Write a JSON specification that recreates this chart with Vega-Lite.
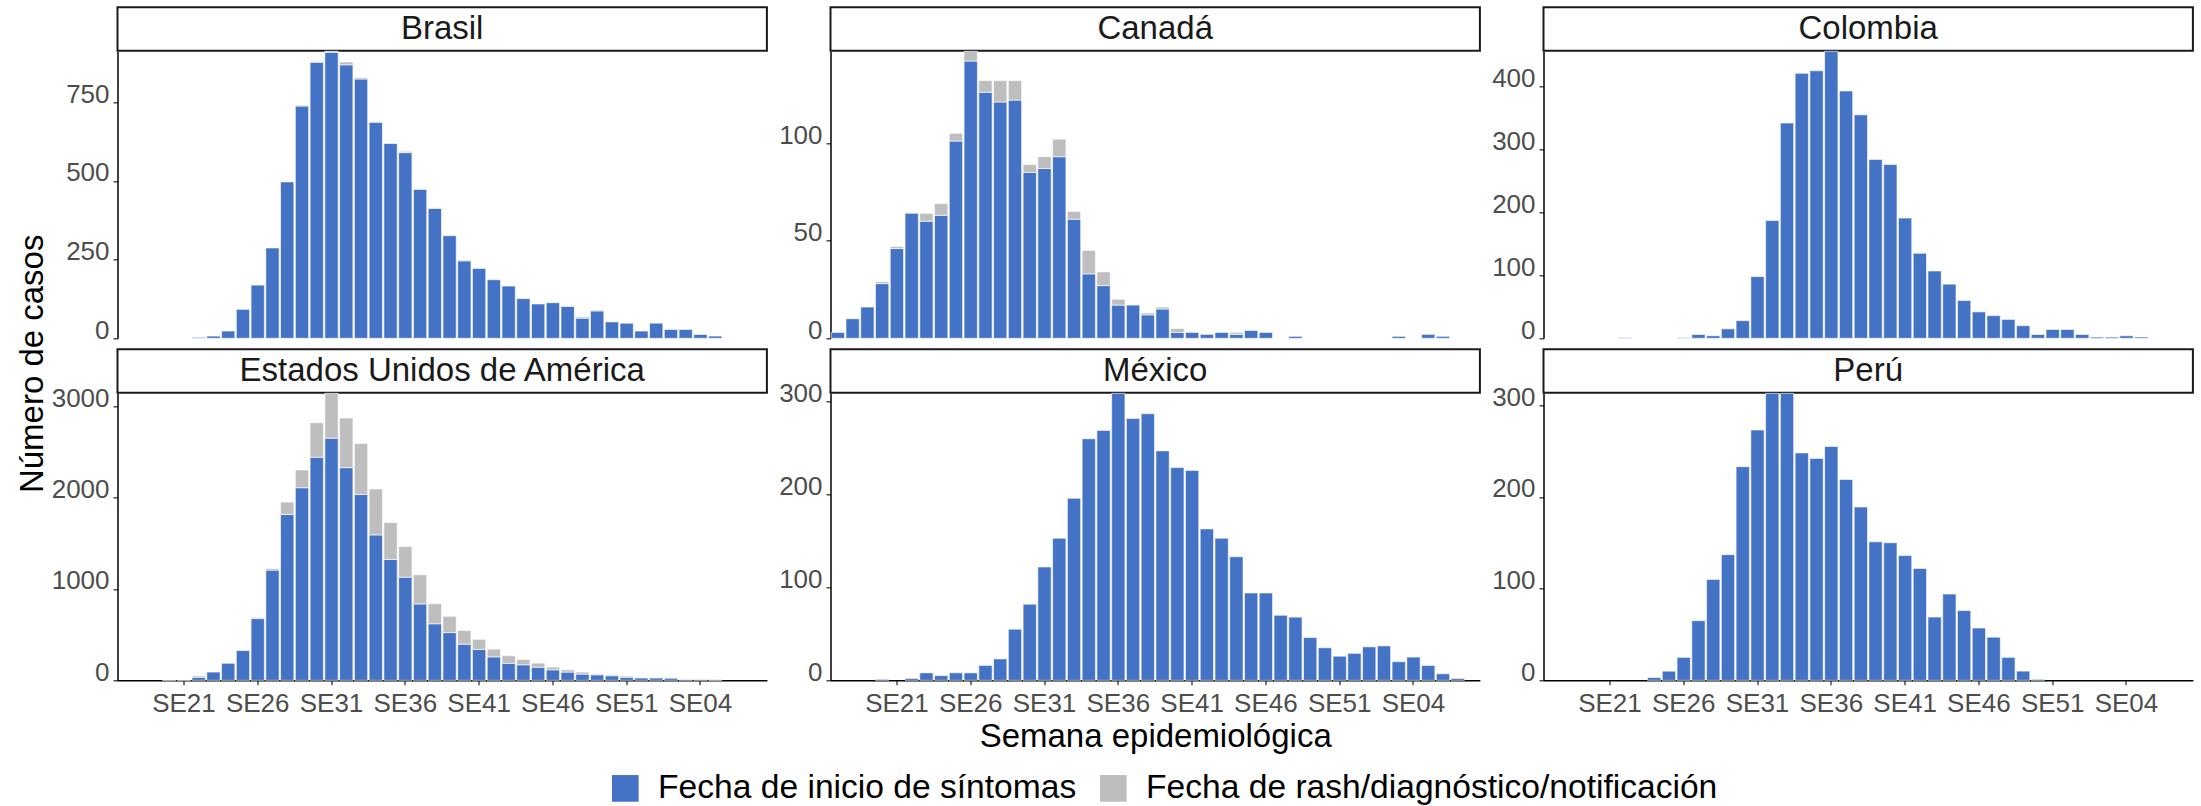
{
"$schema": "https://vega.github.io/schema/vega-lite/v6.json",
"padding": {"left": 15.5, "top": 6.3, "right": 5, "bottom": 0},
"background": "white",
"config": {
 "font": "Liberation Sans",
 "view": {"stroke": null},
 "axis": {"domainColor": "#000000", "domainWidth": 1.5, "tickColor": "#333333", "tickWidth": 1.3, "tickSize": 4.5, "labelColor": "#4D4D4D", "labelFontSize": 26, "labelFont": "Liberation Sans", "grid": false, "titleFont": "Liberation Sans", "titleFontSize": 33, "titleColor": "#000000", "titleFontWeight": "normal"},
 "axisX": {"labelPadding": 6, "titlePadding": 4, "labelAngle": 0},
 "axisY": {"labelPadding": 4, "labelBaseline": "alphabetic", "labelFlush": false, "labelOverlap": false}
},
"datasets": {"casos": [
{"pais":"Brasil","semana":"SE22","inicio":3},
{"pais":"Brasil","semana":"SE23","inicio":7},
{"pais":"Brasil","semana":"SE24","inicio":23},
{"pais":"Brasil","semana":"SE25","inicio":92},
{"pais":"Brasil","semana":"SE26","inicio":169},
{"pais":"Brasil","semana":"SE27","inicio":287},
{"pais":"Brasil","semana":"SE28","inicio":497},
{"pais":"Brasil","semana":"SE29","inicio":738,"rash":3},
{"pais":"Brasil","semana":"SE30","inicio":877,"rash":3},
{"pais":"Brasil","semana":"SE31","inicio":909,"rash":3},
{"pais":"Brasil","semana":"SE32","inicio":869,"rash":9},
{"pais":"Brasil","semana":"SE33","inicio":824,"rash":4},
{"pais":"Brasil","semana":"SE34","inicio":686},
{"pais":"Brasil","semana":"SE35","inicio":619},
{"pais":"Brasil","semana":"SE36","inicio":590,"rash":4},
{"pais":"Brasil","semana":"SE37","inicio":473},
{"pais":"Brasil","semana":"SE38","inicio":413,"rash":2},
{"pais":"Brasil","semana":"SE39","inicio":326},
{"pais":"Brasil","semana":"SE40","inicio":246,"rash":3},
{"pais":"Brasil","semana":"SE41","inicio":222},
{"pais":"Brasil","semana":"SE42","inicio":186},
{"pais":"Brasil","semana":"SE43","inicio":166},
{"pais":"Brasil","semana":"SE44","inicio":126},
{"pais":"Brasil","semana":"SE45","inicio":109},
{"pais":"Brasil","semana":"SE46","inicio":113},
{"pais":"Brasil","semana":"SE47","inicio":101},
{"pais":"Brasil","semana":"SE48","inicio":64,"rash":4},
{"pais":"Brasil","semana":"SE49","inicio":87,"rash":3},
{"pais":"Brasil","semana":"SE50","inicio":52},
{"pais":"Brasil","semana":"SE51","inicio":48},
{"pais":"Brasil","semana":"SE52","inicio":23},
{"pais":"Brasil","semana":"SE01","inicio":48},
{"pais":"Brasil","semana":"SE02","inicio":28},
{"pais":"Brasil","semana":"SE03","inicio":28},
{"pais":"Brasil","semana":"SE04","inicio":12},
{"pais":"Brasil","semana":"SE05","inicio":7},
{"pais":"Canadá","semana":"SE17","inicio":3},
{"pais":"Canadá","semana":"SE18","inicio":10},
{"pais":"Canadá","semana":"SE19","inicio":16},
{"pais":"Canadá","semana":"SE20","inicio":28,"rash":1},
{"pais":"Canadá","semana":"SE21","inicio":46,"rash":1},
{"pais":"Canadá","semana":"SE22","inicio":64},
{"pais":"Canadá","semana":"SE23","inicio":60,"rash":4},
{"pais":"Canadá","semana":"SE24","inicio":63,"rash":6},
{"pais":"Canadá","semana":"SE25","inicio":101,"rash":4},
{"pais":"Canadá","semana":"SE26","inicio":142,"rash":5},
{"pais":"Canadá","semana":"SE27","inicio":126,"rash":6},
{"pais":"Canadá","semana":"SE28","inicio":121,"rash":11},
{"pais":"Canadá","semana":"SE29","inicio":122,"rash":10},
{"pais":"Canadá","semana":"SE30","inicio":85,"rash":4},
{"pais":"Canadá","semana":"SE31","inicio":87,"rash":6},
{"pais":"Canadá","semana":"SE32","inicio":93,"rash":9},
{"pais":"Canadá","semana":"SE33","inicio":61,"rash":4},
{"pais":"Canadá","semana":"SE34","inicio":33,"rash":12},
{"pais":"Canadá","semana":"SE35","inicio":27,"rash":7},
{"pais":"Canadá","semana":"SE36","inicio":17,"rash":3},
{"pais":"Canadá","semana":"SE37","inicio":17},
{"pais":"Canadá","semana":"SE38","inicio":12,"rash":1},
{"pais":"Canadá","semana":"SE39","inicio":15,"rash":1},
{"pais":"Canadá","semana":"SE40","inicio":3,"rash":2},
{"pais":"Canadá","semana":"SE41","inicio":3},
{"pais":"Canadá","semana":"SE42","inicio":2},
{"pais":"Canadá","semana":"SE43","inicio":3},
{"pais":"Canadá","semana":"SE44","inicio":2,"rash":1},
{"pais":"Canadá","semana":"SE45","inicio":4},
{"pais":"Canadá","semana":"SE46","inicio":3},
{"pais":"Canadá","semana":"SE48","inicio":1},
{"pais":"Canadá","semana":"SE03","inicio":1},
{"pais":"Canadá","semana":"SE05","inicio":2},
{"pais":"Canadá","semana":"SE06","inicio":1},
{"pais":"Colombia","semana":"SE22","inicio":1},
{"pais":"Colombia","semana":"SE26","inicio":1},
{"pais":"Colombia","semana":"SE27","inicio":6},
{"pais":"Colombia","semana":"SE28","inicio":4},
{"pais":"Colombia","semana":"SE29","inicio":15},
{"pais":"Colombia","semana":"SE30","inicio":28},
{"pais":"Colombia","semana":"SE31","inicio":98},
{"pais":"Colombia","semana":"SE32","inicio":187},
{"pais":"Colombia","semana":"SE33","inicio":342},
{"pais":"Colombia","semana":"SE34","inicio":421},
{"pais":"Colombia","semana":"SE35","inicio":425},
{"pais":"Colombia","semana":"SE36","inicio":456},
{"pais":"Colombia","semana":"SE37","inicio":393},
{"pais":"Colombia","semana":"SE38","inicio":355},
{"pais":"Colombia","semana":"SE39","inicio":284},
{"pais":"Colombia","semana":"SE40","inicio":276},
{"pais":"Colombia","semana":"SE41","inicio":191},
{"pais":"Colombia","semana":"SE42","inicio":135},
{"pais":"Colombia","semana":"SE43","inicio":107},
{"pais":"Colombia","semana":"SE44","inicio":86},
{"pais":"Colombia","semana":"SE45","inicio":60},
{"pais":"Colombia","semana":"SE46","inicio":42},
{"pais":"Colombia","semana":"SE47","inicio":36},
{"pais":"Colombia","semana":"SE48","inicio":30},
{"pais":"Colombia","semana":"SE49","inicio":20},
{"pais":"Colombia","semana":"SE50","inicio":6},
{"pais":"Colombia","semana":"SE51","inicio":14},
{"pais":"Colombia","semana":"SE52","inicio":14},
{"pais":"Colombia","semana":"SE01","inicio":6},
{"pais":"Colombia","semana":"SE02","inicio":2},
{"pais":"Colombia","semana":"SE03","inicio":2},
{"pais":"Colombia","semana":"SE04","inicio":4},
{"pais":"Colombia","semana":"SE05","inicio":2},
{"pais":"Estados Unidos de América","semana":"SE20","inicio":3},
{"pais":"Estados Unidos de América","semana":"SE21","inicio":3},
{"pais":"Estados Unidos de América","semana":"SE22","inicio":33,"rash":15},
{"pais":"Estados Unidos de América","semana":"SE23","inicio":90},
{"pais":"Estados Unidos de América","semana":"SE24","inicio":186},
{"pais":"Estados Unidos de América","semana":"SE25","inicio":325},
{"pais":"Estados Unidos de América","semana":"SE26","inicio":675,"rash":12},
{"pais":"Estados Unidos de América","semana":"SE27","inicio":1205,"rash":18},
{"pais":"Estados Unidos de América","semana":"SE28","inicio":1813,"rash":136},
{"pais":"Estados Unidos de América","semana":"SE29","inicio":2106,"rash":194},
{"pais":"Estados Unidos de América","semana":"SE30","inicio":2440,"rash":377},
{"pais":"Estados Unidos de América","semana":"SE31","inicio":2648,"rash":491},
{"pais":"Estados Unidos de América","semana":"SE32","inicio":2326,"rash":542},
{"pais":"Estados Unidos de América","semana":"SE33","inicio":2033,"rash":557},
{"pais":"Estados Unidos de América","semana":"SE34","inicio":1590,"rash":502},
{"pais":"Estados Unidos de América","semana":"SE35","inicio":1322,"rash":403},
{"pais":"Estados Unidos de América","semana":"SE36","inicio":1128,"rash":334},
{"pais":"Estados Unidos de América","semana":"SE37","inicio":835,"rash":319},
{"pais":"Estados Unidos de América","semana":"SE38","inicio":618,"rash":220},
{"pais":"Estados Unidos de América","semana":"SE39","inicio":522,"rash":178},
{"pais":"Estados Unidos de América","semana":"SE40","inicio":395,"rash":150},
{"pais":"Estados Unidos de América","semana":"SE41","inicio":338,"rash":110},
{"pais":"Estados Unidos de América","semana":"SE42","inicio":256,"rash":85},
{"pais":"Estados Unidos de América","semana":"SE43","inicio":186,"rash":82},
{"pais":"Estados Unidos de América","semana":"SE44","inicio":170,"rash":57},
{"pais":"Estados Unidos de América","semana":"SE45","inicio":143,"rash":45},
{"pais":"Estados Unidos de América","semana":"SE46","inicio":115,"rash":30},
{"pais":"Estados Unidos de América","semana":"SE47","inicio":90,"rash":25},
{"pais":"Estados Unidos de América","semana":"SE48","inicio":68,"rash":22},
{"pais":"Estados Unidos de América","semana":"SE49","inicio":60,"rash":10},
{"pais":"Estados Unidos de América","semana":"SE50","inicio":50,"rash":12},
{"pais":"Estados Unidos de América","semana":"SE51","inicio":33,"rash":13},
{"pais":"Estados Unidos de América","semana":"SE52","inicio":27,"rash":4},
{"pais":"Estados Unidos de América","semana":"SE01","inicio":27,"rash":3},
{"pais":"Estados Unidos de América","semana":"SE02","inicio":25,"rash":3},
{"pais":"Estados Unidos de América","semana":"SE03","inicio":8,"rash":8},
{"pais":"Estados Unidos de América","semana":"SE04","inicio":8,"rash":8},
{"pais":"Estados Unidos de América","semana":"SE05","inicio":6,"rash":8},
{"pais":"México","semana":"SE20","inicio":1},
{"pais":"México","semana":"SE22","inicio":2},
{"pais":"México","semana":"SE23","inicio":8},
{"pais":"México","semana":"SE24","inicio":5},
{"pais":"México","semana":"SE25","inicio":8},
{"pais":"México","semana":"SE26","inicio":8},
{"pais":"México","semana":"SE27","inicio":16},
{"pais":"México","semana":"SE28","inicio":23},
{"pais":"México","semana":"SE29","inicio":55},
{"pais":"México","semana":"SE30","inicio":82},
{"pais":"México","semana":"SE31","inicio":122},
{"pais":"México","semana":"SE32","inicio":153},
{"pais":"México","semana":"SE33","inicio":196},
{"pais":"México","semana":"SE34","inicio":260},
{"pais":"México","semana":"SE35","inicio":269},
{"pais":"México","semana":"SE36","inicio":309},
{"pais":"México","semana":"SE37","inicio":282},
{"pais":"México","semana":"SE38","inicio":287},
{"pais":"México","semana":"SE39","inicio":247},
{"pais":"México","semana":"SE40","inicio":229},
{"pais":"México","semana":"SE41","inicio":226},
{"pais":"México","semana":"SE42","inicio":163},
{"pais":"México","semana":"SE43","inicio":153},
{"pais":"México","semana":"SE44","inicio":133},
{"pais":"México","semana":"SE45","inicio":94},
{"pais":"México","semana":"SE46","inicio":94},
{"pais":"México","semana":"SE47","inicio":70},
{"pais":"México","semana":"SE48","inicio":68},
{"pais":"México","semana":"SE49","inicio":46},
{"pais":"México","semana":"SE50","inicio":35},
{"pais":"México","semana":"SE51","inicio":26},
{"pais":"México","semana":"SE52","inicio":29},
{"pais":"México","semana":"SE01","inicio":36},
{"pais":"México","semana":"SE02","inicio":37},
{"pais":"México","semana":"SE03","inicio":20},
{"pais":"México","semana":"SE04","inicio":25},
{"pais":"México","semana":"SE05","inicio":16},
{"pais":"México","semana":"SE06","inicio":7},
{"pais":"México","semana":"SE07","inicio":2},
{"pais":"Perú","semana":"SE24","inicio":3},
{"pais":"Perú","semana":"SE25","inicio":10},
{"pais":"Perú","semana":"SE26","inicio":25},
{"pais":"Perú","semana":"SE27","inicio":65},
{"pais":"Perú","semana":"SE28","inicio":110},
{"pais":"Perú","semana":"SE29","inicio":137},
{"pais":"Perú","semana":"SE30","inicio":233},
{"pais":"Perú","semana":"SE31","inicio":273},
{"pais":"Perú","semana":"SE32","inicio":313},
{"pais":"Perú","semana":"SE33","inicio":313},
{"pais":"Perú","semana":"SE34","inicio":248},
{"pais":"Perú","semana":"SE35","inicio":242},
{"pais":"Perú","semana":"SE36","inicio":255},
{"pais":"Perú","semana":"SE37","inicio":219},
{"pais":"Perú","semana":"SE38","inicio":189},
{"pais":"Perú","semana":"SE39","inicio":151},
{"pais":"Perú","semana":"SE40","inicio":150},
{"pais":"Perú","semana":"SE41","inicio":136},
{"pais":"Perú","semana":"SE42","inicio":122},
{"pais":"Perú","semana":"SE43","inicio":69},
{"pais":"Perú","semana":"SE44","inicio":94},
{"pais":"Perú","semana":"SE45","inicio":76},
{"pais":"Perú","semana":"SE46","inicio":57},
{"pais":"Perú","semana":"SE47","inicio":47},
{"pais":"Perú","semana":"SE48","inicio":25},
{"pais":"Perú","semana":"SE49","inicio":10},
{"pais":"Perú","semana":"SE50","inicio":1}
]},
"data": {"name": "casos"},
"columns": 3,
"spacing": {"row": 0, "column": 63},
"bounds": "flush",
"concat": [
  {"width": 649.4, "height": 43.4, "view": {"stroke": "#1A1A1A", "strokeWidth": 2},
   "transform": [{"filter": "datum.pais == 'Brasil'"}, {"aggregate": [{"op": "count", "as": "n"}], "groupby": ["pais"]}],
   "mark": {"type": "text", "font": "Liberation Sans", "fontSize": 33, "color": "#1A1A1A", "baseline": "middle", "align": "center"},
   "encoding": {"text": {"field": "pais", "type": "nominal"}}},
  {"width": 649.4, "height": 43.4, "view": {"stroke": "#1A1A1A", "strokeWidth": 2},
   "transform": [{"filter": "datum.pais == 'Canadá'"}, {"aggregate": [{"op": "count", "as": "n"}], "groupby": ["pais"]}],
   "mark": {"type": "text", "font": "Liberation Sans", "fontSize": 33, "color": "#1A1A1A", "baseline": "middle", "align": "center"},
   "encoding": {"text": {"field": "pais", "type": "nominal"}}},
  {"width": 649.4, "height": 43.4, "view": {"stroke": "#1A1A1A", "strokeWidth": 2},
   "transform": [{"filter": "datum.pais == 'Colombia'"}, {"aggregate": [{"op": "count", "as": "n"}], "groupby": ["pais"]}],
   "mark": {"type": "text", "font": "Liberation Sans", "fontSize": 33, "color": "#1A1A1A", "baseline": "middle", "align": "center"},
   "encoding": {"text": {"field": "pais", "type": "nominal"}}},
  {"width": 649.4, "height": 297.6,
   "transform": [{"filter": "datum.pais == 'Brasil'"}, {"fold": ["inicio", "rash"], "as": ["tipo", "casos"]}, {"filter": "datum.casos > 0"}],
   "mark": {"type": "bar", "stroke": "white", "strokeWidth": 0.6},
   "encoding": {
    "x": {"field": "semana", "type": "nominal", "scale": {"domain": ["SE17","SE18","SE19","SE20","SE21","SE22","SE23","SE24","SE25","SE26","SE27","SE28","SE29","SE30","SE31","SE32","SE33","SE34","SE35","SE36","SE37","SE38","SE39","SE40","SE41","SE42","SE43","SE44","SE45","SE46","SE47","SE48","SE49","SE50","SE51","SE52","SE01","SE02","SE03","SE04","SE05","SE06","SE07","SE08"], "paddingInner": 0.1, "paddingOuter": 0.05}, "axis": null},
    "y": {"field": "casos", "type": "quantitative", "stack": "zero", "scale": {"nice": false, "zero": true, "range": [287, 0]}, "axis": {"values": [0, 250, 500, 750], "format": "d", "title": "Número de casos", "titleX": -85.3, "titleY": 312, "titleBaseline": "middle"}},
    "color": {"field": "tipo", "type": "nominal", "scale": {"domain": ["inicio", "rash"], "range": ["#4472C4", "#BEBEBE"]}, "legend": {"orient": "none", "legendX": 491, "legendY": 764, "direction": "horizontal", "title": null, "symbolType": "square", "symbolSize": 713, "symbolStrokeWidth": 0, "symbolOpacity": 1, "labelFont": "Liberation Sans", "labelFontSize": 33.6, "labelColor": "#000000", "labelOffset": 16, "columnPadding": 20, "padding": 0, "labelLimit": 1000, "labelExpr": "datum.value == 'inicio' ? 'Fecha de inicio de síntomas' : 'Fecha de rash/diagnóstico/notificación'"}},
    "order": {"field": "tipo", "sort": "ascending"}
   }},
  {"width": 649.4, "height": 297.6,
   "transform": [{"filter": "datum.pais == 'Canadá'"}, {"fold": ["inicio", "rash"], "as": ["tipo", "casos"]}, {"filter": "datum.casos > 0"}],
   "mark": {"type": "bar", "stroke": "white", "strokeWidth": 0.6},
   "encoding": {
    "x": {"field": "semana", "type": "nominal", "scale": {"domain": ["SE17","SE18","SE19","SE20","SE21","SE22","SE23","SE24","SE25","SE26","SE27","SE28","SE29","SE30","SE31","SE32","SE33","SE34","SE35","SE36","SE37","SE38","SE39","SE40","SE41","SE42","SE43","SE44","SE45","SE46","SE47","SE48","SE49","SE50","SE51","SE52","SE01","SE02","SE03","SE04","SE05","SE06","SE07","SE08"], "paddingInner": 0.1, "paddingOuter": 0.05}, "axis": null},
    "y": {"field": "casos", "type": "quantitative", "stack": "zero", "scale": {"nice": false, "zero": true, "range": [287, 0]}, "axis": {"values": [0, 50, 100], "format": "d", "title": null}},
    "color": {"field": "tipo", "type": "nominal", "scale": {"domain": ["inicio", "rash"], "range": ["#4472C4", "#BEBEBE"]}, "legend": {"orient": "none", "legendX": 491, "legendY": 764, "direction": "horizontal", "title": null, "symbolType": "square", "symbolSize": 713, "symbolStrokeWidth": 0, "symbolOpacity": 1, "labelFont": "Liberation Sans", "labelFontSize": 33.6, "labelColor": "#000000", "labelOffset": 16, "columnPadding": 20, "padding": 0, "labelLimit": 1000, "labelExpr": "datum.value == 'inicio' ? 'Fecha de inicio de síntomas' : 'Fecha de rash/diagnóstico/notificación'"}},
    "order": {"field": "tipo", "sort": "ascending"}
   }},
  {"width": 649.4, "height": 297.6,
   "transform": [{"filter": "datum.pais == 'Colombia'"}, {"fold": ["inicio", "rash"], "as": ["tipo", "casos"]}, {"filter": "datum.casos > 0"}],
   "mark": {"type": "bar", "stroke": "white", "strokeWidth": 0.6},
   "encoding": {
    "x": {"field": "semana", "type": "nominal", "scale": {"domain": ["SE17","SE18","SE19","SE20","SE21","SE22","SE23","SE24","SE25","SE26","SE27","SE28","SE29","SE30","SE31","SE32","SE33","SE34","SE35","SE36","SE37","SE38","SE39","SE40","SE41","SE42","SE43","SE44","SE45","SE46","SE47","SE48","SE49","SE50","SE51","SE52","SE01","SE02","SE03","SE04","SE05","SE06","SE07","SE08"], "paddingInner": 0.1, "paddingOuter": 0.05}, "axis": null},
    "y": {"field": "casos", "type": "quantitative", "stack": "zero", "scale": {"nice": false, "zero": true, "range": [287, 0]}, "axis": {"values": [0, 100, 200, 300, 400], "format": "d", "title": null}},
    "color": {"field": "tipo", "type": "nominal", "scale": {"domain": ["inicio", "rash"], "range": ["#4472C4", "#BEBEBE"]}, "legend": {"orient": "none", "legendX": 491, "legendY": 764, "direction": "horizontal", "title": null, "symbolType": "square", "symbolSize": 713, "symbolStrokeWidth": 0, "symbolOpacity": 1, "labelFont": "Liberation Sans", "labelFontSize": 33.6, "labelColor": "#000000", "labelOffset": 16, "columnPadding": 20, "padding": 0, "labelLimit": 1000, "labelExpr": "datum.value == 'inicio' ? 'Fecha de inicio de síntomas' : 'Fecha de rash/diagnóstico/notificación'"}},
    "order": {"field": "tipo", "sort": "ascending"}
   }},
  {"width": 649.4, "height": 43.4, "view": {"stroke": "#1A1A1A", "strokeWidth": 2},
   "transform": [{"filter": "datum.pais == 'Estados Unidos de América'"}, {"aggregate": [{"op": "count", "as": "n"}], "groupby": ["pais"]}],
   "mark": {"type": "text", "font": "Liberation Sans", "fontSize": 33, "color": "#1A1A1A", "baseline": "middle", "align": "center"},
   "encoding": {"text": {"field": "pais", "type": "nominal"}}},
  {"width": 649.4, "height": 43.4, "view": {"stroke": "#1A1A1A", "strokeWidth": 2},
   "transform": [{"filter": "datum.pais == 'México'"}, {"aggregate": [{"op": "count", "as": "n"}], "groupby": ["pais"]}],
   "mark": {"type": "text", "font": "Liberation Sans", "fontSize": 33, "color": "#1A1A1A", "baseline": "middle", "align": "center"},
   "encoding": {"text": {"field": "pais", "type": "nominal"}}},
  {"width": 649.4, "height": 43.4, "view": {"stroke": "#1A1A1A", "strokeWidth": 2},
   "transform": [{"filter": "datum.pais == 'Perú'"}, {"aggregate": [{"op": "count", "as": "n"}], "groupby": ["pais"]}],
   "mark": {"type": "text", "font": "Liberation Sans", "fontSize": 33, "color": "#1A1A1A", "baseline": "middle", "align": "center"},
   "encoding": {"text": {"field": "pais", "type": "nominal"}}},
  {"width": 649.4, "height": 287,
   "transform": [{"filter": "datum.pais == 'Estados Unidos de América'"}, {"fold": ["inicio", "rash"], "as": ["tipo", "casos"]}, {"filter": "datum.casos > 0"}],
   "mark": {"type": "bar", "stroke": "white", "strokeWidth": 0.6},
   "encoding": {
    "x": {"field": "semana", "type": "nominal", "scale": {"domain": ["SE17","SE18","SE19","SE20","SE21","SE22","SE23","SE24","SE25","SE26","SE27","SE28","SE29","SE30","SE31","SE32","SE33","SE34","SE35","SE36","SE37","SE38","SE39","SE40","SE41","SE42","SE43","SE44","SE45","SE46","SE47","SE48","SE49","SE50","SE51","SE52","SE01","SE02","SE03","SE04","SE05","SE06","SE07","SE08"], "paddingInner": 0.1, "paddingOuter": 0.05}, "axis": {"values": ["SE21","SE26","SE31","SE36","SE41","SE46","SE51","SE04"], "title": null}},
    "y": {"field": "casos", "type": "quantitative", "stack": "zero", "scale": {"nice": false, "zero": true}, "axis": {"values": [0, 1000, 2000, 3000], "format": "d", "title": null}},
    "color": {"field": "tipo", "type": "nominal", "scale": {"domain": ["inicio", "rash"], "range": ["#4472C4", "#BEBEBE"]}, "legend": {"orient": "none", "legendX": 491, "legendY": 764, "direction": "horizontal", "title": null, "symbolType": "square", "symbolSize": 713, "symbolStrokeWidth": 0, "symbolOpacity": 1, "labelFont": "Liberation Sans", "labelFontSize": 33.6, "labelColor": "#000000", "labelOffset": 16, "columnPadding": 20, "padding": 0, "labelLimit": 1000, "labelExpr": "datum.value == 'inicio' ? 'Fecha de inicio de síntomas' : 'Fecha de rash/diagnóstico/notificación'"}},
    "order": {"field": "tipo", "sort": "ascending"}
   }},
  {"width": 649.4, "height": 287,
   "transform": [{"filter": "datum.pais == 'México'"}, {"fold": ["inicio", "rash"], "as": ["tipo", "casos"]}, {"filter": "datum.casos > 0"}],
   "mark": {"type": "bar", "stroke": "white", "strokeWidth": 0.6},
   "encoding": {
    "x": {"field": "semana", "type": "nominal", "scale": {"domain": ["SE17","SE18","SE19","SE20","SE21","SE22","SE23","SE24","SE25","SE26","SE27","SE28","SE29","SE30","SE31","SE32","SE33","SE34","SE35","SE36","SE37","SE38","SE39","SE40","SE41","SE42","SE43","SE44","SE45","SE46","SE47","SE48","SE49","SE50","SE51","SE52","SE01","SE02","SE03","SE04","SE05","SE06","SE07","SE08"], "paddingInner": 0.1, "paddingOuter": 0.05}, "axis": {"values": ["SE21","SE26","SE31","SE36","SE41","SE46","SE51","SE04"], "title": "Semana epidemiológica"}},
    "y": {"field": "casos", "type": "quantitative", "stack": "zero", "scale": {"nice": false, "zero": true}, "axis": {"values": [0, 100, 200, 300], "format": "d", "title": null}},
    "color": {"field": "tipo", "type": "nominal", "scale": {"domain": ["inicio", "rash"], "range": ["#4472C4", "#BEBEBE"]}, "legend": {"orient": "none", "legendX": 491, "legendY": 764, "direction": "horizontal", "title": null, "symbolType": "square", "symbolSize": 713, "symbolStrokeWidth": 0, "symbolOpacity": 1, "labelFont": "Liberation Sans", "labelFontSize": 33.6, "labelColor": "#000000", "labelOffset": 16, "columnPadding": 20, "padding": 0, "labelLimit": 1000, "labelExpr": "datum.value == 'inicio' ? 'Fecha de inicio de síntomas' : 'Fecha de rash/diagnóstico/notificación'"}},
    "order": {"field": "tipo", "sort": "ascending"}
   }},
  {"width": 649.4, "height": 287,
   "transform": [{"filter": "datum.pais == 'Perú'"}, {"fold": ["inicio", "rash"], "as": ["tipo", "casos"]}, {"filter": "datum.casos > 0"}],
   "mark": {"type": "bar", "stroke": "white", "strokeWidth": 0.6},
   "encoding": {
    "x": {"field": "semana", "type": "nominal", "scale": {"domain": ["SE17","SE18","SE19","SE20","SE21","SE22","SE23","SE24","SE25","SE26","SE27","SE28","SE29","SE30","SE31","SE32","SE33","SE34","SE35","SE36","SE37","SE38","SE39","SE40","SE41","SE42","SE43","SE44","SE45","SE46","SE47","SE48","SE49","SE50","SE51","SE52","SE01","SE02","SE03","SE04","SE05","SE06","SE07","SE08"], "paddingInner": 0.1, "paddingOuter": 0.05}, "axis": {"values": ["SE21","SE26","SE31","SE36","SE41","SE46","SE51","SE04"], "title": null}},
    "y": {"field": "casos", "type": "quantitative", "stack": "zero", "scale": {"nice": false, "zero": true}, "axis": {"values": [0, 100, 200, 300], "format": "d", "title": null}},
    "color": {"field": "tipo", "type": "nominal", "scale": {"domain": ["inicio", "rash"], "range": ["#4472C4", "#BEBEBE"]}, "legend": {"orient": "none", "legendX": 491, "legendY": 764, "direction": "horizontal", "title": null, "symbolType": "square", "symbolSize": 713, "symbolStrokeWidth": 0, "symbolOpacity": 1, "labelFont": "Liberation Sans", "labelFontSize": 33.6, "labelColor": "#000000", "labelOffset": 16, "columnPadding": 20, "padding": 0, "labelLimit": 1000, "labelExpr": "datum.value == 'inicio' ? 'Fecha de inicio de síntomas' : 'Fecha de rash/diagnóstico/notificación'"}},
    "order": {"field": "tipo", "sort": "ascending"}
   }}
]
}
